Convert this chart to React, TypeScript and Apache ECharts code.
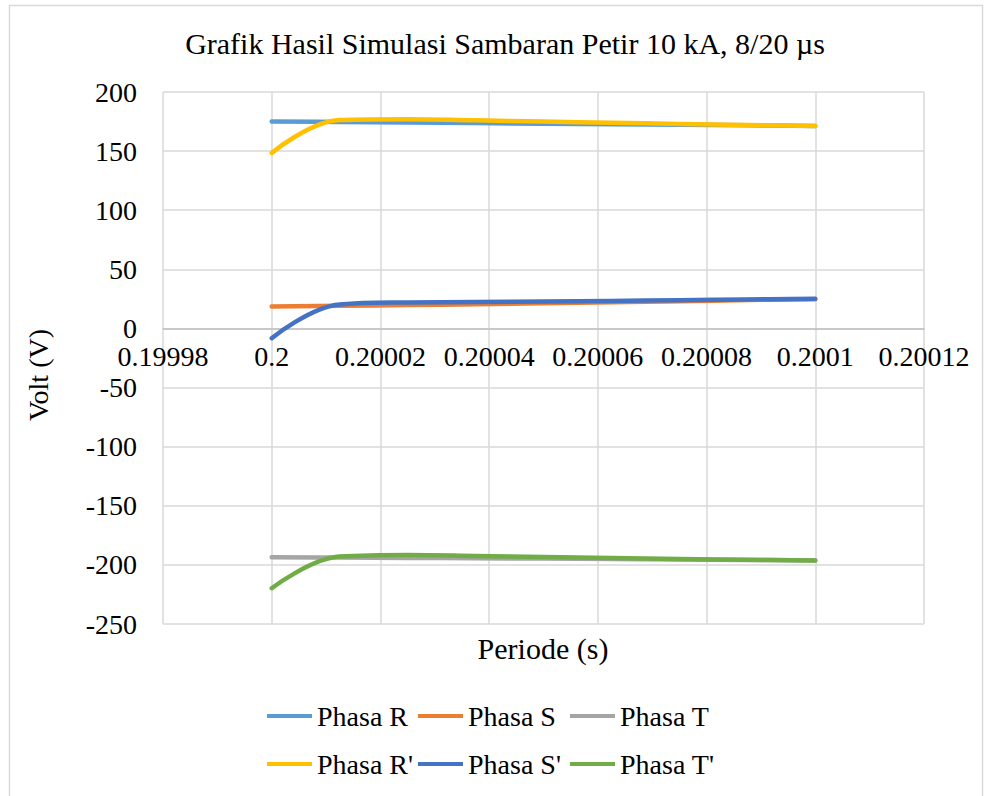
import { useEffect, useRef } from "react";
import * as echarts from "echarts";

// Time axis (s) and simulated voltages (V) for each phase
const periode = [0.2, 0.2000125, 0.200025, 0.2000375, 0.20005, 0.2000625, 0.200075, 0.2000875, 0.2001];
const phasaR = [175.1, 174.7, 174.2, 173.7, 173.2, 172.8, 172.3, 171.8, 171.3];
const phasaS = [18.6, 19.2, 19.8, 20.5, 21.3, 22.2, 23.0, 24.0, 24.8];
const phasaT = [-193.5, -193.8, -194.1, -194.4, -194.7, -195.0, -195.4, -195.8, -196.2];
const phasaR2 = [148.5, 176.3, 177.0, 176.0, 175.0, 174.0, 173.0, 172.1, 171.3];
const phasaS2 = [-8.2, 20.3, 22.0, 22.3, 22.7, 23.3, 23.9, 24.5, 25.1];
const phasaT2 = [-219.7, -193.0, -191.6, -192.4, -193.4, -194.2, -195.0, -195.7, -196.3];

const seriesNames = ["Phasa R", "Phasa S", "Phasa T", "Phasa R'", "Phasa S'", "Phasa T'"];
const seriesValues = [phasaR, phasaS, phasaT, phasaR2, phasaS2, phasaT2];
const seriesColors = ["#5B9BD5", "#ED7D31", "#A5A5A5", "#FFC000", "#4472C4", "#70AD47"];

const Y_MIN = -250;
const Y_MAX = 200;

const FONT = "'Liberation Serif', 'Times New Roman', serif";

export default function App() {
  const ref = useRef<HTMLDivElement>(null);

  useEffect(() => {
    if (!ref.current) return;
    const chart = echarts.init(ref.current, undefined, { renderer: "svg" });

    const gridTop = 92;
    const gridBottom = 172;
    const plotHeight = 796 - gridTop - gridBottom;
    // lift the x axis (line + labels) from the bottom edge up to y = 0
    const zeroOffset = -plotHeight * (0 - Y_MIN) / (Y_MAX - Y_MIN);

    const series = seriesNames.map((name, i) => ({
      name,
      type: "line",
      data: periode.map((x, j) => [x, seriesValues[i][j]]),
      smooth: 0.4,
      showSymbol: false,
      symbol: "none",
      color: seriesColors[i],
      lineStyle: { width: 4.5, color: seriesColors[i], cap: "round", join: "round" },
      z: 3 + i,
    }));

    // legend laid out as a 3 x 2 table
    const colLeft = [262, 413, 565];
    const rowTop = [697, 745];
    const legends = seriesNames.map((name, i) => ({
      data: [name],
      left: colLeft[i % 3],
      top: rowTop[Math.floor(i / 3)],
      icon: "rect",
      itemWidth: 45,
      itemHeight: 4,
      itemGap: 0,
      textStyle: { fontFamily: FONT, fontSize: 28, color: "#000", padding: [0, 0, 0, 0] },
    }));

    chart.setOption({
      animation: false,
      backgroundColor: "#fff",
      grid: { left: 163, right: 67, top: gridTop, bottom: gridBottom, containLabel: false },
      legend: legends,
      xAxis: {
        type: "value",
        min: 0.19998,
        max: 0.20012,
        interval: 0.00002,
        position: "bottom",
        offset: zeroOffset,
        axisLine: { show: true, onZero: false, lineStyle: { color: "#BFBFBF", width: 1.5 } },
        axisTick: { show: false },
        axisLabel: {
          fontFamily: FONT,
          fontSize: 28,
          color: "#000",
          margin: 14,
          showMinLabel: true,
          showMaxLabel: true,
          formatter: (v: number) => String(+v.toFixed(5)),
        },
        splitLine: { show: true, lineStyle: { color: "#D9D9D9", width: 1.5 } },
      },
      yAxis: {
        type: "value",
        min: Y_MIN,
        max: Y_MAX,
        interval: 50,
        axisLine: { show: false },
        axisTick: { show: false },
        axisLabel: { fontFamily: FONT, fontSize: 28, color: "#000", margin: 26 },
        splitLine: { show: true, lineStyle: { color: "#D9D9D9", width: 1.5 } },
      },
      series,
      graphic: [
        {
          type: "rect",
          shape: { x: 9.5, y: 5.5, width: 973, height: 800 },
          style: { fill: "none", stroke: "#D9D9D9", lineWidth: 1.5 },
          silent: true,
        },
        {
          type: "text",
          x: 505,
          y: 43,
          style: {
            text: "Grafik Hasil Simulasi Sambaran Petir 10 kA, 8/20 µs",
            font: `30px ${FONT}`,
            fill: "#000",
            textAlign: "center",
            textVerticalAlign: "middle",
          },
        },
        {
          type: "text",
          x: 543,
          y: 648,
          style: {
            text: "Periode (s)",
            font: `30px ${FONT}`,
            fill: "#000",
            textAlign: "center",
            textVerticalAlign: "middle",
          },
        },
        {
          type: "text",
          x: 38,
          y: 375,
          rotation: Math.PI / 2,
          style: {
            text: "Volt (V)",
            font: `28px ${FONT}`,
            fill: "#000",
            textAlign: "center",
            textVerticalAlign: "middle",
          },
        },
      ],
    });

    return () => chart.dispose();
  }, []);

  return (
    <div
      ref={ref}
      style={{ position: "fixed", left: 0, top: 0, width: 991, height: 796 }}
    />
  );
}
